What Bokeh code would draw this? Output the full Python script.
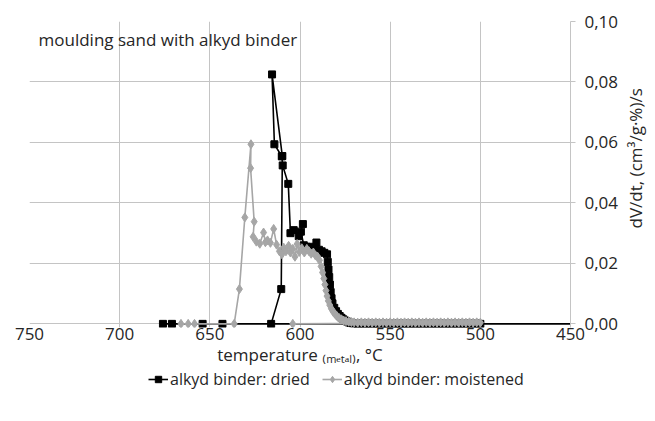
import math
from bokeh.plotting import figure
from bokeh.layouts import column, row
from bokeh.models import (Range1d, Label, Legend, LegendItem, CustomJSTickFormatter,
                          FixedTicker, ColumnDataSource, CDSView, BooleanFilter)
from bokeh.embed import file_html
from bokeh.resources import INLINE

FONT = "Open Sans"

# ---------------- data ----------------
# dried series (first point: baseline tail at 450 °C, drawn as line only)
dried_T = [450, 676, 671, 654, 643, 616,
           610.4, 609.8, 615.5, 614.2, 610.1, 609.6, 606.5, 605.3, 603.5, 600.7,
           598.4, 599.5, 597.9, 596.5, 595.0, 593.5, 592.0, 590.9, 589.5, 588.0,
           586.5, 585.0, 584.6, 584.2, 583.8, 583.4, 583.0, 582.5, 582.0, 581.0,
           580.0, 579.0, 578.0, 577.0, 576.0, 575.0, 574.0, 573.0, 572.0, 571.0,
           570.0, 568, 566, 564, 562, 560, 558, 556, 554, 552, 550, 548, 546, 544,
           542, 540, 538, 536, 534, 532, 530, 528, 526, 524, 522, 520, 518, 516,
           514, 512, 510, 508, 506, 504, 502, 500]
dried_V = [0.0, 0.0, 0.0, 0.0, 0.0, 0.0,
           0.0115, 0.0555, 0.0825, 0.0594, 0.0554, 0.0524, 0.0463, 0.0300, 0.0310, 0.0290,
           0.0330, 0.0305, 0.0260, 0.0255, 0.0250, 0.0255, 0.0250, 0.0269, 0.0245, 0.0240,
           0.0235, 0.0230, 0.0205, 0.0180, 0.0155, 0.0130, 0.0105, 0.0085, 0.0068, 0.0053,
           0.0042, 0.0033, 0.0026, 0.0020, 0.0015, 0.0011, 0.0008, 0.0005, 0.0003, 0.0002,
           0.0001, 0.0, 0.0001, 0.0, 0.0001, 0.0, 0.0001, 0.0, 0.0001, 0.0, 0.0001, 0.0, 0.0001, 0.0,
           0.0001, 0.0, 0.0001, 0.0, 0.0001, 0.0, 0.0001, 0.0, 0.0001, 0.0, 0.0001, 0.0, 0.0001, 0.0,
           0.0001, 0.0, 0.0001, 0.0, 0.0001, 0.0, 0.0001, 0.0]

# moistened series
moist_T = [666, 662, 658.5, 636.5, 633.6, 630.6, 627.2, 627.4, 625.4, 626.0,
           624.2, 622.3, 620.2, 619.2, 618.0, 616.4, 614.6, 613.0, 611.4, 610.0,
           609.0, 607.8, 606.3, 605.3, 604.0, 602.8, 601.6, 600.4, 599.0, 597.6,
           596.2, 595.0, 593.8, 592.6, 591.4, 590.2, 589.2, 588.3, 587.5, 586.8,
           586.2, 585.6, 585.0, 584.3, 583.5, 582.6, 581.6, 580.5, 579.4, 578.2,
           577.0, 575.8, 574.5, 573.0, 571.5, 570.0,
           568, 566, 564, 562, 560, 558, 556, 554, 552, 550, 548, 546, 544,
           542, 540, 538, 536, 534, 532, 530, 528, 526, 524, 522, 520, 518, 516,
           514, 512, 510, 508, 506, 504, 502, 500, 604]
moist_V = [0.0, 0.0, 0.0, 0.0, 0.0115, 0.0352, 0.0594, 0.0515, 0.0338, 0.0288,
           0.0272, 0.0265, 0.0302, 0.0270, 0.0276, 0.0268, 0.0314, 0.0262, 0.0240, 0.0230,
           0.0252, 0.0240, 0.0258, 0.0236, 0.0248, 0.0222, 0.0264, 0.0238, 0.0250, 0.0236,
           0.0248, 0.0240, 0.0232, 0.0236, 0.0226, 0.0222, 0.0210, 0.0190, 0.0170, 0.0150,
           0.0130, 0.0110, 0.0092, 0.0076, 0.0062, 0.0050, 0.0040, 0.0032, 0.0025, 0.0019,
           0.0015, 0.0011, 0.0009, 0.0007, 0.0006, 0.0005,
           0.0004, 0.0005, 0.0004, 0.0005, 0.0004, 0.0005, 0.0004, 0.0005, 0.0004, 0.0005, 0.0004, 0.0005, 0.0004,
           0.0005, 0.0004, 0.0005, 0.0004, 0.0005, 0.0004, 0.0005, 0.0004, 0.0005, 0.0004, 0.0005, 0.0004, 0.0005, 0.0004,
           0.0005, 0.0004, 0.0005, 0.0004, 0.0005, 0.0004, 0.0005, 0.0004, 0.0]

x_ticks = [750, 700, 650, 600, 550, 500, 450]
y_ticks = [0.0, 0.02, 0.04, 0.06, 0.08, 0.10]

series_names = ["alkyd binder: dried", "alkyd binder: moistened"]
title_text = "moulding sand with alkyd binder"
x_label = "temperature \u208d\u2098\u2091\u209c\u2090\u2097\u208e, \u00b0C"
y_label = "dV/dt, (cm\u00b3/g\u00b7%)/s"

# ---------------- main chart ----------------
GRID = "#c4c4c4"
TXT = "#262626"
BLACK = "#000000"
GRAY = "#a6a6a6"

# small pad below zero so markers sitting on the 0-line are not cut
p = figure(frame_width=541, frame_height=306, x_range=Range1d(750, 450),
           y_range=Range1d(-0.0012, 0.10),
           y_axis_location="right", output_backend="svg", toolbar_location=None,
           min_border_left=29, min_border_right=52, min_border_top=21, min_border_bottom=42)
p.outline_line_color = None
p.background_fill_color = "white"
p.border_fill_color = "white"

p.xaxis.ticker = FixedTicker(ticks=x_ticks)
p.yaxis.ticker = FixedTicker(ticks=y_ticks)
p.yaxis.formatter = CustomJSTickFormatter(code="return tick.toFixed(2).replace('.', ',');")
p.xgrid.ticker = FixedTicker(ticks=x_ticks)
p.ygrid.ticker = FixedTicker(ticks=y_ticks)
p.grid.grid_line_color = GRID
p.grid.grid_line_width = 1
p.xaxis.minor_tick_line_color = None
p.yaxis.minor_tick_line_color = None
for ax in (p.xaxis, p.yaxis):
    ax.axis_line_color = GRID
    ax.major_tick_line_color = GRID
    ax.major_tick_in = 0
    ax.major_tick_out = 5
    ax.major_label_text_font = FONT
    ax.major_label_text_font_size = "17px"
    ax.major_label_text_color = TXT
    ax.axis_label_text_font = FONT
    ax.axis_label_text_font_size = "17px"
    ax.axis_label_text_font_style = "normal"
    ax.axis_label_text_color = TXT
p.xaxis.axis_line_color = None
p.xaxis.major_tick_line_color = None
p.xaxis.major_tick_out = 0
p.xaxis.major_label_standoff = 0
p.xaxis.axis_label = x_label
p.xaxis.axis_label_standoff = 0
p.yaxis.major_label_standoff = 9

# sources
dsrc = ColumnDataSource(dict(T=dried_T, V=dried_V))
msrc = ColumnDataSource(dict(T=moist_T, V=moist_V))
dview = CDSView(filter=BooleanFilter([t >= 500 for t in dried_T]))

d_line = p.line("T", "V", source=dsrc, line_color=BLACK, line_width=1.6)
d_mark = p.scatter("T", "V", source=dsrc, view=dview, marker="square", size=7,
                   fill_color=BLACK, line_color=BLACK)
m_line = p.line("T", "V", source=msrc, line_color=GRAY, line_width=1.6)
m_mark = p.scatter("T", "V", source=msrc, marker="diamond", size=9,
                   fill_color=GRAY, line_color=GRAY)

# title inside the plot
p.add_layout(Label(x=745, y=0.0941, text=title_text, text_baseline="middle",
                   text_font=FONT, text_font_size="17px", text_color=TXT))

# ---------------- y-axis title strip (right) ----------------
r = figure(width=30, height=369, x_range=Range1d(0, 30), y_range=Range1d(0, 369),
           x_axis_type=None, y_axis_type=None, output_backend="svg", toolbar_location=None,
           min_border_left=0, min_border_right=0, min_border_top=0, min_border_bottom=0)
r.outline_line_color = None
r.grid.visible = False
r.add_layout(Label(x=13, y=204, text=y_label, angle=math.pi / 2,
                   text_align="center", text_baseline="middle",
                   text_font=FONT, text_font_size="17px", text_color=TXT))

# ---------------- legend strip below the chart ----------------
q = figure(width=652, height=48, x_range=Range1d(0, 1), y_range=Range1d(0, 1),
           x_axis_type=None, y_axis_type=None, output_backend="svg", toolbar_location=None,
           min_border_left=0, min_border_right=0, min_border_top=0, min_border_bottom=0)
q.outline_line_color = None
q.grid.visible = False
q_d_line = q.line("T", "V", source=dsrc, line_color=BLACK, line_width=1.6)
q_d_mark = q.scatter("T", "V", source=dsrc, marker="square", size=7,
                     fill_color=BLACK, line_color=BLACK)
q_m_line = q.line("T", "V", source=msrc, line_color=GRAY, line_width=1.6)
q_m_mark = q.scatter("T", "V", source=msrc, marker="diamond", size=9,
                     fill_color=GRAY, line_color=GRAY)

legend = Legend(items=[LegendItem(label=series_names[0], renderers=[q_d_line, q_d_mark]),
                       LegendItem(label=series_names[1], renderers=[q_m_line, q_m_mark])],
                orientation="horizontal", location=(148, 27))
legend.label_text_font = FONT
legend.label_text_font_size = "16px"
legend.label_text_color = TXT
legend.glyph_width = 20
legend.glyph_height = 16
legend.label_standoff = 2
legend.spacing = 12
legend.padding = 0
legend.margin = 0
legend.border_line_color = None
legend.background_fill_alpha = 0
q.add_layout(legend)

layout = column(row(p, r), q)
open("out.html", "w").write(file_html(layout, INLINE))
